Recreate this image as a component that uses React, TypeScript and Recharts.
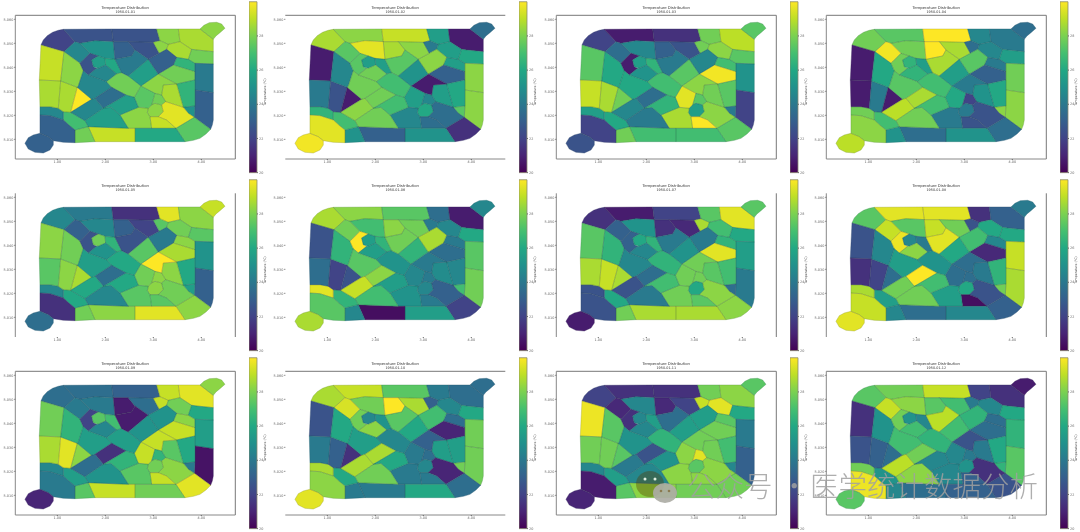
import { Bar, BarChart, ReferenceLine, Scatter, ScatterChart, XAxis, YAxis } from 'recharts';

const FONT = '"DejaVu Sans", sans-serif';

// Mesh cells in grid units (same mesh in every panel)
const cellOutlines: number[][][] = [
  [[123,135],[130,120],[142,107],[158,97],[175,91],[190,88],[225,125],[192,155]],
  [[190,88],[335,87],[340,125],[285,122],[240,130],[225,125]],
  [[335,87],[470,87],[480,122],[460,127],[385,125],[340,125]],
  [[240,130],[285,122],[340,125],[345,178],[315,175],[295,168],[270,160]],
  [[340,125],[385,125],[405,150],[395,168],[345,178]],
  [[385,125],[460,127],[478,160],[445,178],[405,150]],
  [[460,127],[480,122],[505,133],[500,148],[478,160]],
  [[470,87],[535,87],[540,125],[505,133],[480,122]],
  [[535,87],[600,87],[640,118],[640,155],[590,150],[575,148],[555,135],[540,125]],
  [[600,87],[612,76],[628,68],[650,67],[665,72],[675,85],[660,98],[648,108],[640,118]],
  [[505,133],[540,125],[555,135],[575,148],[565,178],[530,172],[500,148]],
  [[575,148],[590,150],[640,155],[640,192],[585,190],[565,178]],
  [[530,172],[565,178],[585,190],[585,215],[520,195]],
  [[475,222],[520,195],[585,215],[585,240],[530,252]],
  [[585,190],[640,192],[640,278],[585,270],[585,240],[585,215]],
  [[585,270],[640,278],[640,360],[637,375],[632,388],[583,352],[585,318]],
  [[530,252],[585,240],[585,270],[585,318],[550,322]],
  [[550,322],[585,318],[583,352],[565,340]],
  [[490,255],[530,252],[550,322],[497,305],[485,285]],
  [[423,258],[475,222],[530,252],[490,255],[485,285],[465,280]],
  [[423,258],[465,280],[455,315],[445,325],[415,322],[403,292]],
  [[465,280],[485,285],[497,305],[485,315],[465,310],[455,315]],
  [[445,325],[455,315],[465,310],[485,315],[490,335],[475,350],[450,350],[442,338]],
  [[485,315],[497,305],[550,322],[565,340],[583,352],[528,385],[500,360],[475,350],[490,335]],
  [[450,350],[475,350],[500,360],[528,385],[455,385]],
  [[528,385],[583,352],[632,388],[618,402],[600,415],[580,421],[555,425]],
  [[360,345],[415,322],[445,325],[442,338],[450,350],[455,385],[385,385]],
  [[405,385],[455,385],[528,385],[555,425],[405,425]],
  [[265,380],[385,385],[405,385],[405,425],[285,425]],
  [[225,390],[265,380],[285,425],[225,428]],
  [[190,335],[212,337],[255,362],[265,380],[225,390],[210,378],[190,360]],
  [[120,320],[150,320],[175,325],[190,335],[190,360],[150,347],[120,345]],
  [[120,345],[150,347],[190,360],[210,378],[225,390],[225,428],[190,427],[160,422],[145,410],[120,400]],
  [[120,400],[145,410],[160,422],[160,435],[150,450],[130,459],[105,457],[85,447],[75,430],[85,413],[100,405]],
  [[123,135],[192,155],[182,243],[118,240]],
  [[118,240],[182,243],[175,325],[150,320],[120,320]],
  [[182,243],[232,262],[212,337],[190,335],[175,325]],
  [[232,262],[275,298],[212,337]],
  [[192,155],[225,125],[240,130],[270,160],[245,185],[240,190]],
  [[192,155],[240,190],[250,212],[235,258],[232,262],[182,243]],
  [[240,190],[245,185],[270,160],[295,168],[275,180],[280,200],[290,205],[265,225],[250,212]],
  [[275,180],[295,168],[315,175],[317,195],[295,205],[280,200]],
  [[315,175],[345,178],[365,218],[350,222],[317,195]],
  [[290,205],[295,205],[317,195],[350,222],[320,245],[265,225]],
  [[235,258],[250,212],[265,225],[320,245],[335,262],[285,295],[275,298],[232,262]],
  [[320,245],[350,222],[365,218],[385,228],[423,258],[403,292],[378,285],[335,262]],
  [[285,295],[335,262],[378,285],[310,325]],
  [[212,337],[275,298],[285,295],[310,325],[255,362]],
  [[255,362],[310,325],[333,322],[360,345],[385,385],[265,380]],
  [[310,325],[378,285],[403,292],[415,322],[360,345],[333,322]],
  [[345,178],[395,168],[405,150],[445,178],[385,228],[365,218]],
  [[385,228],[445,178],[475,222],[423,258]],
  [[445,178],[478,160],[500,148],[530,172],[520,195],[475,222]],
];

// Temperature of each cell, one list per panel, same order as cellOutlines
const temps01 = [21.5,22,22,24.5,22.5,22,28,28,28.5,28,28.5,27.5,26,27.5,23.5,22.5,26,24.5,28.5,28,27,27.5,28,29.5,29,27,28,25.5,29,27.5,26.5,24,22.5,22.5,29,28.5,28.5,30,24,28,22,25,25.5,24,24,27.5,23,24,25,25,23.5,25,22.5];
const temps02 = [28.5,28,29,29.5,28.5,28,23.5,25,20.5,23,25,25.5,25,22.5,28,28,25.5,27,25,20.5,25,24,25.5,23,23,21,24,24.5,22.5,24.5,26.5,26,29.5,29.8,20.5,23.5,22,20.5,27,24,27,25,25,27.5,27.5,26.5,27.5,28,27.5,26.5,27,24.5,28];
const temps03 = [21.5,20.5,21,24,22.5,22,27.5,27.5,28.8,27,28,27,26.5,29.8,24.5,21.5,27,23.5,27.5,28,29.5,27,25,28,30,27,28.5,26.5,26.5,27.5,25.5,25,21.5,22,27,29,28.5,27.5,23,25.5,20.5,25,26,24.5,25.5,26.5,23,24,23.5,26,23.5,27,24];
const temps04 = [27.5,27,30,27.5,30,28.5,23,24,23.5,23,24,25,23.5,22.5,27.5,28,25.5,28,24.5,23.5,25.5,21.5,23.5,22,22,23,23.5,24.5,23,24.5,26.5,27.5,28,28.8,20.5,20.5,23.5,20.5,29.8,25.5,27.5,26,25,26,27,26.5,28.5,28.8,27.5,26.5,28.5,25,27];
const temps05 = [24,23.5,21,24,22.5,21.5,27,29.5,28,29,27.5,27,28,28.5,24.5,22.5,25.5,25,28,30,27.5,28,28,27.5,27,28,27,29.5,28,27.5,25.5,24,21,23,28,27,28,28.5,22.5,27.5,22,27.5,26,24.5,25,25.5,23,25.5,24,25.5,22,27,23.5];
const temps06 = [28.5,28,27,26.5,28,27.5,23.5,23,20.5,24,24,25.5,23.5,23,27,27.5,24,26.5,24.2,23.5,24,23.5,24,22.5,23.5,21.5,24.5,25,20.2,24,26,29.5,27,28.5,22,23,21.5,22,27.5,26,30,25,26,25,27,24.5,28,29,26.5,25,27.5,26,28.5];
const temps07 = [21,20.5,21.5,24.5,21,20.8,28.5,27,29.5,27,26.5,25.5,26,29.5,25,23.5,26.5,23,27,27.5,27.5,27.5,25.5,28,27,28,27.5,28.5,28.5,27.5,25.5,22,22,20.5,27,28.5,29,28.5,22.5,26,22.5,25.5,26,24,24,26,23,22,23.5,26.5,23.5,24.5,23.5];
const temps08 = [27,29.5,29.5,27,29,27.5,22,21,22.5,23.5,25.5,25.5,24,20.8,29,28.5,26,27.5,23.5,23,23,23,25.5,22,20.2,22.5,25,24,23,24,25,28.5,29,29.5,22,21,21.5,23,29,24,29.7,24,23.5,28,25,24.5,30,27.5,27.5,26.5,29.5,25.5,26.5];
const temps09 = [23,23,22.5,23.5,20.5,23,29,29,29.5,28,27.5,25.5,28,29,25,20.3,25.5,23.5,27,29,29,26,27.5,28,29,29.5,27,27.5,29,27,25,24,23.5,20.7,27.5,28.5,29.5,28,23.5,26,21.5,27,26.5,24,25,25,21,23,24.5,26,20.5,24.5,24.5];
const temps10 = [28.5,29,27,27.5,30,28.5,22.5,23.5,23,23,24,25.5,23,20.7,27.5,27.5,25,27.5,25,22.5,23.5,23,24,20.7,23.5,23,23.5,25.5,23.5,23.5,25.5,28.5,28,29.5,22,23.5,22.5,21,29.3,25.5,27.5,24,24.5,28,25,24,28.5,28.5,27.5,25.5,27,25.5,26.5];
const temps11 = [21.5,21,21,24,20.8,21.5,29,27.5,28,27,29.5,25.5,27,27.5,23.5,22.5,26.5,24,27.5,27.5,28,29.5,27,28,28,27.5,28,27.5,28,27,25,24,20.5,20.7,29.7,27.5,27.5,27,20.8,27,21,24,25,24,24.5,26,22,23.5,24,24.5,23,25,25];
const temps12 = [27,27.5,29,28,27,26.5,23.5,21.5,21,20.5,24,25.5,23,23,26,27,25.5,26,23.5,22,24,23.5,24.5,21,22.5,22,24,22.5,23,24,24.5,27.5,29.7,27,21,22,22.5,23,29,24.5,27.5,24.5,24,26.5,26.5,26,27.5,28.8,28,24,28.8,26.5,26];

const panelTemps = [temps01, temps02, temps03, temps04, temps05, temps06, temps07, temps08, temps09, temps10, temps11, temps12];
const panelDates = ['1950-01-01', '1950-01-02', '1950-01-03', '1950-01-04', '1950-01-05', '1950-01-06', '1950-01-07', '1950-01-08', '1950-01-09', '1950-01-10', '1950-01-11', '1950-01-12'];
// which sides of the axes frame survive in each panel: t, b, l, r
const panelFrames = ['tblr', 'tb', 'tblr', 'tblr', 'lr', '', 'lr', 'lr', 'tblr', 'tb', 'tblr', 'tblr'];

const xTicks = [172, 316, 460, 604];
const xTickLabels = ['1.00', '2.00', '3.00', '4.00'];
const yTicks = [58, 130, 202, 274, 346, 418];
const yTickLabels = ['5.060', '5.050', '5.040', '5.030', '5.020', '5.010'];
const barTicks = [20, 22, 24, 26, 28];
const barRange = [{ name: 'temp', range: [20, 30] }];

const viridisStops = ['#440154', '#482475', '#414487', '#355f8d', '#2a788e', '#21918c', '#22a884', '#44bf70', '#7ad151', '#bddf26', '#fde725'];

function tempColor(v: number) {
  // my readings sit a bit low against the bar, the curve pulls them up
  const t = Math.min(0.9999, Math.pow(Math.max(0, (v - 20) / 10), 0.85)) * 10;
  const i = Math.floor(t);
  const a = viridisStops[i];
  const b = viridisStops[i + 1];
  const mix = (s: number) =>
    Math.round(parseInt(a.slice(s, s + 2), 16) * (1 - t + i) + parseInt(b.slice(s, s + 2), 16) * (t - i));
  return `rgb(${mix(1)},${mix(3)},${mix(5)})`;
}

const NoDot = () => <g />;

function MapPanel({ index }: { index: number }) {
  const temps = panelTemps[index];
  const frame = panelFrames[index];
  return (
    <ScatterChart width={249} height={178} margin={{ top: 15.3, right: 13.7, bottom: 0, left: 0 }}>
      <XAxis
        type="number"
        dataKey="x"
        domain={[46, 706]}
        ticks={xTicks}
        tickFormatter={(v) => xTickLabels[xTicks.indexOf(v)]}
        axisLine={false}
        height={19}
        tickSize={1}
        tickMargin={1}
        tick={{ fontSize: 3.4, fill: '#666', fontFamily: FONT }}
        interval={0}
      />
      <YAxis
        type="number"
        dataKey="y"
        reversed
        domain={[46, 477]}
        ticks={yTicks}
        tickFormatter={(v) => yTickLabels[yTicks.indexOf(v)]}
        axisLine={false}
        width={15.3}
        tickSize={1}
        tickMargin={1}
        tick={{ fontSize: 3.4, fill: '#666', fontFamily: FONT }}
        interval={0}
      />
      {cellOutlines.map((cell, i) => (
        <Scatter
          key={i}
          data={[...cell, cell[0]].map(([x, y]) => ({ x, y }))}
          shape={NoDot}
          line={{ fill: tempColor(temps[i]), stroke: tempColor(temps[i]), strokeWidth: 0.25 }}
          isAnimationActive={false}
        />
      ))}
      {/* thin dark seams between cells, drawn apart so they stay faint */}
      {cellOutlines.map((cell, i) => (
        <Scatter
          key={`seam-${i}`}
          data={[...cell, cell[0]].map(([x, y]) => ({ x, y }))}
          shape={NoDot}
          line={{ stroke: '#20303a', strokeWidth: 0.25, strokeOpacity: 0.55 }}
          isAnimationActive={false}
        />
      ))}
      {frame.includes('t') && <ReferenceLine y={46} stroke="#777" strokeWidth={1} />}
      {frame.includes('b') && <ReferenceLine y={477} stroke="#888" strokeWidth={1} />}
      {frame.includes('l') && <ReferenceLine x={46} stroke="#888" strokeWidth={1} />}
      {frame.includes('r') && <ReferenceLine x={706} stroke="#777" strokeWidth={1} />}
      <text x={125.3} y={9} textAnchor="middle" fontSize={3.8} fill="#333" fontFamily={FONT}>
        Temperature Distribution
      </text>
      <text x={125.3} y={13} textAnchor="middle" fontSize={3.4} fill="#333" fontFamily={FONT}>
        {panelDates[index]}
      </text>
    </ScatterChart>
  );
}

function ColorBar({ index }: { index: number }) {
  const id = `viridis-${index}`;
  return (
    <BarChart
      width={20.7}
      height={178}
      data={barRange}
      barCategoryGap={0}
      margin={{ top: 1.7, right: 0, bottom: 5.3, left: 0 }}
    >
      <defs>
        <linearGradient id={id} x1="0" y1="1" x2="0" y2="0">
          {viridisStops.map((c, i) => (
            <stop key={c} offset={`${i * 10}%`} stopColor={c} />
          ))}
        </linearGradient>
      </defs>
      <XAxis dataKey="name" hide />
      <YAxis
        orientation="right"
        type="number"
        domain={[20, 30]}
        ticks={barTicks}
        width={12.7}
        axisLine={false}
        tickSize={1}
        tickMargin={1}
        tick={{ fontSize: 3.4, fill: '#666', fontFamily: FONT }}
        interval={0}
      />
      <Bar dataKey="range" fill={`url(#${id})`} stroke="#8a8a70" strokeWidth={0.8} isAnimationActive={false} />
      <text
        x={16.7}
        y={92}
        textAnchor="middle"
        fontSize={3.2}
        fill="#444"
        fontFamily={FONT}
        transform="rotate(-90 16.7 92)"
      >
        Temperature (°C)
      </text>
    </BarChart>
  );
}

const panelLefts = [0, 270, 540.7, 811];
const panelTops = [0, 178, 355.7];

export default function App() {
  return (
    <div style={{ position: 'absolute', left: 0, top: 0, width: 1080, height: 532, background: '#fff', overflow: 'hidden' }}>
      <div style={{ filter: 'blur(0.35px)' }}>
        {panelDates.map((_, i) => {
          const left = panelLefts[i % 4];
          const top = panelTops[Math.floor(i / 4)];
          return (
            <div key={i}>
              <div style={{ position: 'absolute', left, top }}>
                <MapPanel index={i} />
              </div>
              <div style={{ position: 'absolute', left: left + 249.3, top }}>
                <ColorBar index={i} />
              </div>
            </div>
          );
        })}
      </div>
      {/* 公众号 watermark over the bottom row */}
      <svg width={1080} height={532} style={{ position: 'absolute', left: 0, top: 0, pointerEvents: 'none' }}>
        <ellipse cx={650} cy={484} rx={14} ry={13} fill="rgba(90,60,0,0.38)" />
        <circle cx={645} cy={479} r={1.5} fill="#dfeee0" />
        <circle cx={655} cy={479} r={1.5} fill="#dfeee0" />
        <ellipse cx={665} cy={493} rx={12} ry={10} fill="rgba(172,172,165,0.92)" />
        <circle cx={661} cy={491} r={1.3} fill="#8a7a50" />
        <circle cx={669} cy={491} r={1.3} fill="#8a7a50" />
        <g fontFamily='"Noto Sans CJK SC", sans-serif' fontSize={28.5} fontWeight={300} fill="rgba(160,160,160,0.85)">
          <text x={687} y={497}>公众号</text>
          <text x={780} y={497}>·</text>
          <text x={810} y={497}>医学统计数据分析</text>
        </g>
      </svg>
    </div>
  );
}
